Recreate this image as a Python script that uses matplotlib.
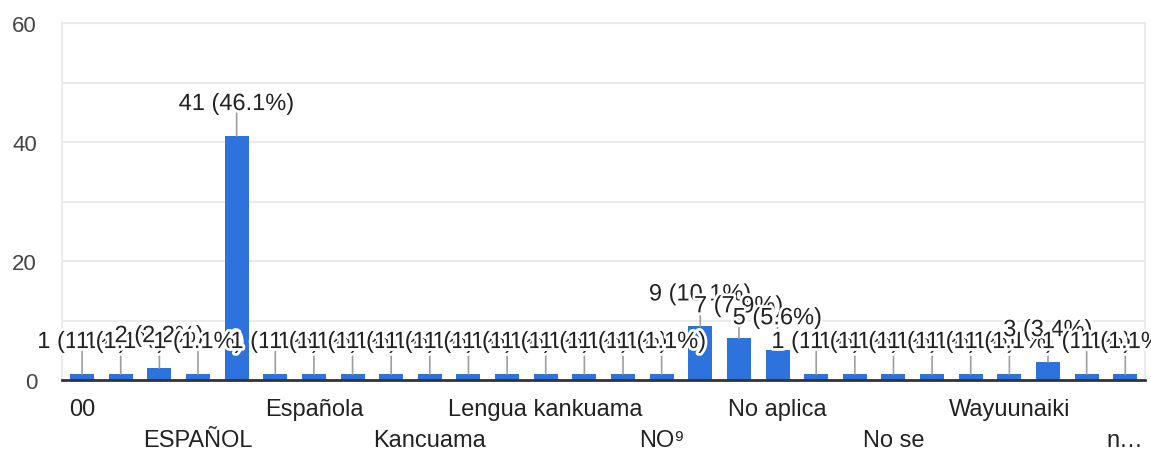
import matplotlib
matplotlib.use("Agg")
import matplotlib.pyplot as plt
import matplotlib.patheffects as pe
import numpy as np

plt.rcParams['font.family'] = ['Liberation Sans', 'DejaVu Sans']

# responses per answer (28 answers, only every third one gets a visible label)
categories = ["00", "Castellano", "Castellano y español", "ESPAÑOL", "Español",
              "Español e inglés", "Española", "Indígena", "Inglés", "Kancuama",
              "Kankuamo", "Lengua española", "Lengua kankuama", "Lengua materna",
              "NINGUNA", "NO⁹", "Ninguna", "No", "No aplica", "No hablo otra",
              "No pertenezco", "No se", "Solo español", "Wayuu", "Wayuunaiki",
              "Wayuunaiki y español", "Zenú", "n…"]
counts = [1, 1, 2, 1, 41, 1, 1, 1, 1, 1, 1, 1, 1, 1, 1, 1, 9, 7, 5, 1, 1, 1, 1, 1, 1, 3, 1, 1]
yticks = [0, 20, 40, 60]

total = sum(counts)
x = np.arange(len(categories))

fig = plt.figure(figsize=(11.51, 4.52), dpi=100)
ax = fig.add_axes([62 / 1151, 71 / 452, 1083 / 1151, 357 / 452])

ax.bar(x, counts, width=0.62, color='#2e73dd', zorder=2)

ax.set_xlim(-0.52, len(categories) - 0.49)
ax.set_ylim(0, 60)
ax.set_yticks(yticks)
ax.set_yticks([10, 30, 50], minor=True)
ax.grid(axis='y', which='both', color='#ebebeb', lw=1.5, zorder=0)
ax.tick_params(axis='y', which='both', length=0, labelsize=16, labelcolor='#444444', pad=18)

# every third category is labelled, alternating between two rows
shown = x[::3]
labels = []
for k, i in enumerate(shown):
    labels.append(categories[i] if k % 2 == 0 else "\n" + categories[i])
ax.set_xticks(shown)
ax.set_xticklabels(labels, fontsize=17, color='#222222', linespacing=1.55)
ax.tick_params(axis='x', length=0, pad=13)

for s in ['left', 'right', 'top']:
    ax.spines[s].set_color('#ebebeb')
    ax.spines[s].set_linewidth(1.5)
ax.spines['bottom'].set_color('#333333')
ax.spines['bottom'].set_linewidth(2)
ax.spines['bottom'].set_zorder(3)

halo = [pe.withStroke(linewidth=4, foreground='white')]
for i, v in zip(x, counts):
    # stem
    ax.annotate('', xy=(i, v), xytext=(0, 26), textcoords='offset pixels',
                arrowprops=dict(arrowstyle='-', color='#9e9e9e', lw=1.2,
                                shrinkA=0, shrinkB=0), zorder=3)
for i, v in zip(x, counts):
    txt = "%d (%.1f%%)" % (v, 100.0 * v / total)
    ax.annotate(txt, xy=(i, v), xytext=(0, 32), textcoords='offset pixels',
                ha='center', va='center', fontsize=17, color='#222222',
                path_effects=halo, zorder=4)

fig.savefig("out.png", dpi=100)
